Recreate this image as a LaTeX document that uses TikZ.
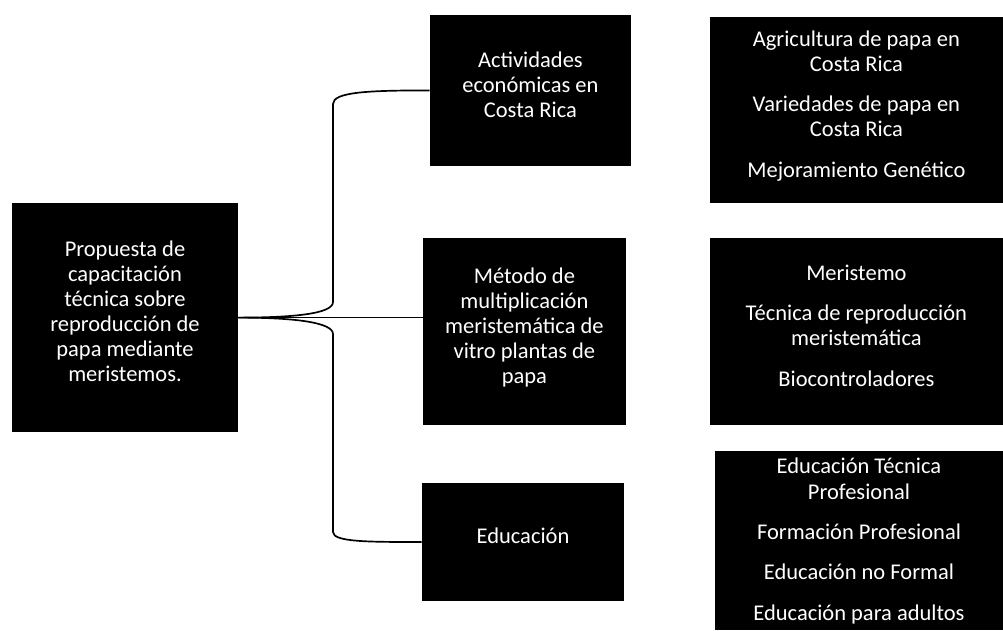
\documentclass[tikz,border=0pt]{standalone}
\usepackage{fontspec}
\setmainfont{Carlito}
\usepackage{tikz}
\usetikzlibrary{positioning,calc}

\begin{document}
\begin{tikzpicture}[caja/.style={shape=rectangle,fill=black,text=white,align=center,inner sep=0pt,text depth=0.3cm,font=\fontsize{16}{17.8}\selectfont},
    linea/.style={draw=black,line width=1.2pt}]
   \useasboundingbox (0,0) rectangle (25.075,-15.75);
   \node[caja,minimum width=5.65cm,minimum height=5.725cm] (P) at (3.125,-7.94) {Propuesta de\\capacitación\\técnica sobre\\reproducción de\\papa mediante\\meristemos.};
    \node[caja,minimum width=5.025cm,minimum height=3.775cm] (A) at (13.26,-2.26) {Actividades\\económicas en\\Costa Rica};
    \node[caja,minimum width=5.075cm,minimum height=4.675cm] (M) at (13.11,-8.29) {Método de\\multiplicación\\meristemática de\\vitro plantas de\\papa};
    \node[caja,minimum width=5.05cm,minimum height=2.95cm] (E) at (13.075,-13.55) {Educación};
    \node[caja,minimum width=7.325cm,minimum height=4.65cm] (AL) at (21.41,-2.75) {Agricultura de papa en\\Costa Rica\\[11pt]Variedades de papa en\\Costa Rica\\[11pt]Mejoramiento Genético};
    \node[caja,minimum width=7.325cm,minimum height=4.675cm] (ML) at (21.41,-8.29) {Meristemo\\[11pt]Técnica de reproducción\\meristemática\\[11pt]Biocontroladores};
    \node[caja,minimum width=7.2cm,minimum height=4.475cm,text depth=0.05cm] (EL) at (21.475,-13.51) {Educación Técnica\\Profesional\\[11pt]Formación Profesional\\[11pt]Educación no Formal\\[11pt]Educación para adultos};
    % llave
    \coordinate (T1) at (8.325,-7.55);
    \coordinate (T2) at (8.325,-2.6);
    \coordinate (B1) at (8.325,-8.35);
    \coordinate (B2) at (8.325,-13.3);
    \path [linea](P.east) .. controls (7.3,-7.94) and (8.325,-7.85) .. (T1) -- (T2) .. controls (8.325,-2.3) and (9.2,-2.26) .. (A.west);
    \path [linea](P.east) .. controls (7.3,-7.94) and (8.325,-8.05) .. (B1) -- (B2) .. controls (8.325,-13.55) and (9.2,-13.55) .. (E.west);
    \path [linea](P.east) -- (P.east -| M.west);
\end{tikzpicture}
\end{document}
